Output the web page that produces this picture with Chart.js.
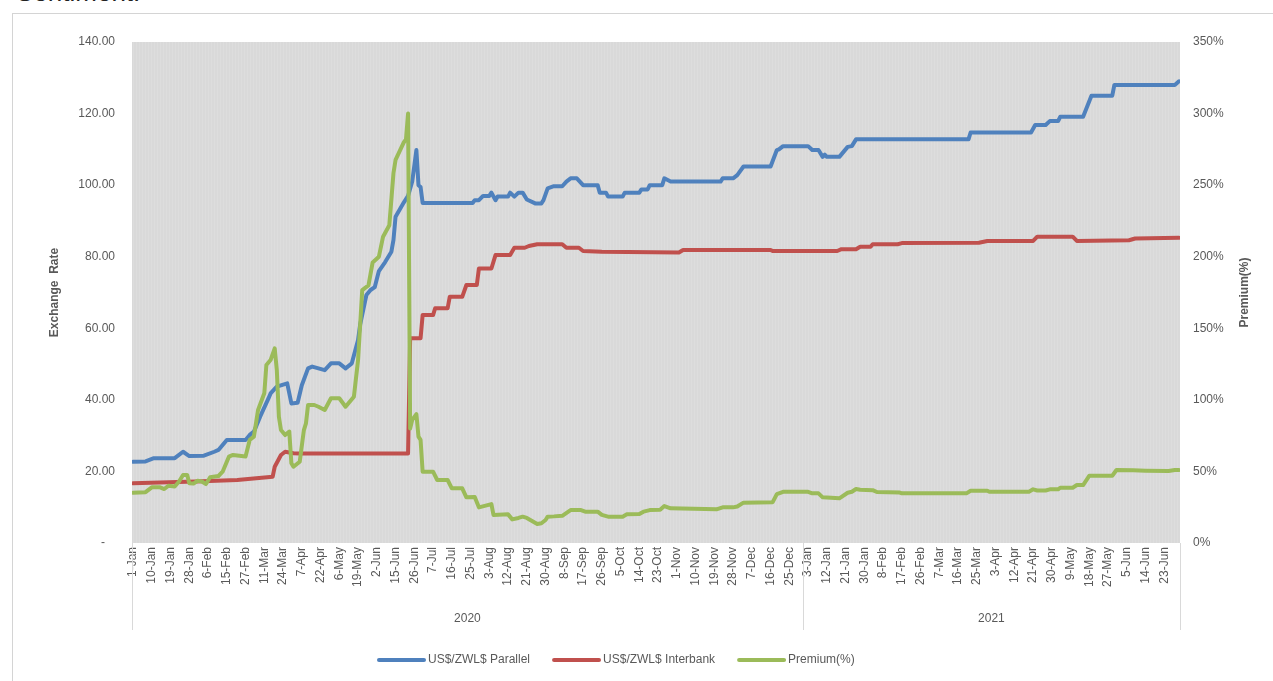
<!DOCTYPE html>
<html>
<head>
<meta charset="utf-8">
<script src="https://cdn.jsdelivr.net/npm/chart.js@4.4.1/dist/chart.umd.min.js"></script>
<style>
  html, body { margin: 0; padding: 0; background: #fff; overflow: hidden; }
  #wrap { position: relative; width: 1273px; height: 681px; overflow: hidden; }
  #heading { position: absolute; left: 16px; top: -23px; font: 26px 'Liberation Sans', Arial, sans-serif; color: #222; }
  #frame { position: absolute; left: 12px; top: 13px; width: 1300px; height: 700px; border-left: 1px solid #d4d4d4; border-top: 1px solid #d4d4d4; }
  canvas { position: absolute; left: 0; top: 0; }
</style>
</head>
<body>
<div id="wrap">
  <div id="heading">Sentiment:</div>
  <div id="frame"></div>
  <canvas id="rateChart" width="1273" height="681"></canvas>
</div>
<script>
// tick labels, one every 9 observations
const ticks2020 = ['1-Jan','10-Jan','19-Jan','28-Jan','6-Feb','15-Feb','27-Feb','11-Mar','24-Mar','7-Apr',
  '22-Apr','6-May','19-May','2-Jun','15-Jun','26-Jun','7-Jul','16-Jul','25-Jul','3-Aug','12-Aug','21-Aug',
  '30-Aug','8-Sep','17-Sep','26-Sep','5-Oct','14-Oct','23-Oct','1-Nov','10-Nov','19-Nov','28-Nov','7-Dec',
  '16-Dec','25-Dec'];
const ticks2021 = ['3-Jan','12-Jan','21-Jan','30-Jan','8-Feb','17-Feb','26-Feb','7-Mar','16-Mar','25-Mar',
  '3-Apr','12-Apr','21-Apr','30-Apr','9-May','18-May','27-May','5-Jun','14-Jun','23-Jun'];
const tickLabels = ticks2020.concat(ticks2021);
const tickStep = 9;
const years = ['2020', '2021'];
const firstIndex2021 = 322;   // observation index of 1-Jan-2021
const lastIndex = 502;        // 30-Jun-2021

const parallel = [[0,22.7],[6,22.8],[10,23.7],[20,23.7],[24,25.5],[27,24.3],[34,24.4],[39,25.5],[41,26.0],
  [45,28.8],[54,28.8],[56,30.2],[58,31.1],[61,35.3],[65,40.4],[66,41.8],[69,43.7],[74,44.6],[76,39.0],
  [79,39.2],[81,44.1],[84,48.8],[86,49.3],[92,48.3],[95,50.2],[99,50.2],[102,48.8],[105,50.2],[108,56.7],
  [109,61.0],[112,69.3],[114,70.7],[116,71.5],[118,76.0],[121,78.5],[124,81.4],[125,84.7],[126,91.2],
  [130,95.2],[132,97.0],[134,101.0],[136,109.8],[137,100.0],[138,99.5],[139,95.0],[163,95.0],[164,95.8],
  [166,95.8],[168,97.0],[171,97.0],[172,97.9],[174,95.8],[175,96.8],[180,96.8],[181,97.9],[183,96.8],
  [185,97.9],[187,97.9],[189,96.0],[193,94.9],[196,94.9],[197,95.8],[199,99.1],[202,99.7],[206,99.7],
  [208,101.0],[210,101.9],[213,101.9],[216,100.0],[223,100.0],[224,97.9],[227,97.9],[228,96.8],[235,96.8],
  [236,97.9],[243,97.9],[244,98.8],[247,98.8],[248,100.0],[254,100.0],[255,101.9],[258,101.0],[282,101.0],
  [283,101.9],[288,101.9],[290,102.8],[293,105.2],[306,105.2],[309,109.8],[310,110.0],[312,110.9],
  [324,110.9],[326,109.8],[329,109.8],[331,107.9],[332,108.5],[333,107.9],[339,107.9],[343,110.7],
  [345,110.9],[347,112.8],[401,112.8],[402,114.7],[431,114.7],[433,116.8],[438,116.8],[440,117.9],
  [444,117.9],[445,119.1],[456,119.1],[460,125.0],[470,125.0],[471,128.0],[500,128.0],[502,129.0]];

const interbank = [[0,16.7],[30,17.2],[50,17.6],[67,18.5],[68,21.3],[71,24.6],[73,25.5],[77,25.1],[80,25.0],
  [132,25.0],[133,57.2],[138,57.2],[139,63.7],[144,63.7],[145,65.6],[151,65.6],[152,68.8],[158,68.8],
  [160,72.1],[165,72.1],[166,76.7],[172,76.7],[174,80.5],[181,80.5],[183,82.5],[188,82.5],[190,83.0],
  [194,83.5],[206,83.5],[208,82.5],[214,82.5],[216,81.6],[225,81.4],[262,81.2],[264,81.9],[306,81.9],
  [307,81.6],[338,81.6],[340,82.1],[347,82.1],[349,82.8],[354,82.8],[355,83.5],[367,83.5],[369,83.8],
  [406,83.9],[410,84.4],[432,84.4],[434,85.6],[451,85.6],[453,84.4],[478,84.6],[481,85.1],[502,85.3]];

// premium in percent
const premium = [[0,35.1],[6,35.5],[9,38.9],[13,38.9],[15,37.7],[17,40.0],[20,39.5],[22,42.8],[24,47.5],
  [26,47.5],[27,41.7],[29,41.5],[31,43.5],[33,43.0],[35,41.2],[37,45.9],[41,46.8],[43,49.8],[46,60.3],
  [48,61.5],[54,60.5],[56,72.0],[58,74.3],[60,92.9],[63,104.6],[64,124.4],[66,127.8],[68,136.0],[69,120.9],
  [70,88.2],[71,78.9],[73,75.4],[75,77.8],[76,55.7],[77,53.3],[80,56.8],[82,78.9],[83,83.6],[84,96.4],
  [87,96.4],[89,95.2],[92,92.9],[95,101.1],[99,101.1],[102,95.2],[106,102.2],[108,127.8],[110,176.7],
  [113,180.0],[115,196.0],[118,200.0],[120,214.0],[123,222.0],[125,258.5],[126,267.6],[130,280.0],
  [131,282.0],[132,300.0],[133,80.0],[134,86.0],[136,90.0],[137,74.3],[138,72.0],[139,49.8],[144,49.8],
  [146,44.0],[151,44.0],[153,38.2],[158,38.2],[160,31.9],[164,32.2],[166,24.9],[172,27.2],[173,19.6],
  [180,20.0],[182,16.5],[185,17.5],[187,18.4],[189,17.5],[194,13.3],[196,13.8],[198,16.1],[199,18.4],
  [202,18.6],[206,19.0],[210,23.0],[215,23.0],[217,21.9],[223,21.9],[225,19.6],[228,18.4],[235,18.4],
  [237,20.0],[243,20.2],[245,21.9],[248,23.0],[253,23.3],[255,25.8],[258,24.2],[280,23.5],[283,24.9],
  [288,24.9],[290,25.5],[293,28.2],[307,28.5],[309,34.2],[312,35.8],[324,35.8],[326,34.7],[329,34.7],
  [331,31.9],[339,31.2],[343,35.1],[345,35.8],[347,37.7],[349,37.2],[355,36.9],[357,35.6],[368,35.2],
  [369,34.7],[400,34.7],[402,36.5],[410,36.5],[411,35.8],[430,35.8],[432,37.5],[434,36.7],[438,36.7],
  [440,37.5],[444,37.5],[445,38.6],[451,38.6],[453,40.5],[456,40.5],[459,47.0],[470,47.0],[472,51.0],
  [480,50.8],[486,50.5],[497,50.3],[500,51.0],[502,51.0]];

const seriesNames = ['US$/ZWL$ Parallel', 'US$/ZWL$ Interbank', 'Premium(%)'];
const seriesColors = ['#4F81BD', '#C0504D', '#9BBB59'];

const FONT = '"Liberation Sans", Arial, sans-serif';
const TEXT = '#595959';
Chart.defaults.font.family = FONT;
Chart.defaults.font.size = 12;
Chart.defaults.color = TEXT;

const toPoints = arr => arr.map(([x, y]) => ({ x, y }));

// grey plot area with faint vertical hatching
const plotBackground = {
    id: 'plotBackground',
    beforeDraw(chart) {
        const { ctx, chartArea: a } = chart;
        ctx.save();
        ctx.fillStyle = '#d9d9d9';
        ctx.fillRect(a.left, a.top, a.right - a.left, a.bottom - a.top);
        ctx.fillStyle = 'rgba(255,255,255,0.12)';
        for (let x = a.left + 1; x < a.right; x += 3) ctx.fillRect(x, a.top, 1, a.bottom - a.top);
        ctx.restore();
    }
};

// year group row, axis titles and legend
const extras = {
    id: 'extras',
    afterDraw(chart) {
        const { ctx, chartArea: a, scales } = chart;
        const x = scales.x;
        const breakX = x.getPixelForValue(firstIndex2021 - 0.5);
        ctx.save();
        ctx.strokeStyle = '#d9d9d9';
        ctx.lineWidth = 1;
        [a.left, breakX, a.right].forEach(px => {
            ctx.beginPath();
            ctx.moveTo(Math.round(px) + 0.5, a.bottom);
            ctx.lineTo(Math.round(px) + 0.5, 630);
            ctx.stroke();
        });
        ctx.fillStyle = TEXT;
        ctx.font = '12px ' + FONT;
        ctx.textAlign = 'center';
        ctx.textBaseline = 'middle';
        ctx.fillText(years[0], (a.left + breakX) / 2, 619);
        ctx.fillText(years[1], (breakX + a.right) / 2, 619);

        // axis titles, both read bottom to top
        ctx.font = 'bold 12px ' + FONT;
        const midY = (a.top + a.bottom) / 2;
        [[55, 'Exchange  Rate'], [1245, 'Premium(%)']].forEach(([tx, t]) => {
            ctx.save();
            ctx.translate(tx, midY);
            ctx.rotate(-Math.PI / 2);
            ctx.fillText(t, 0, 0);
            ctx.restore();
        });

        // legend
        ctx.font = '12px ' + FONT;
        ctx.textAlign = 'left';
        ctx.lineCap = 'round';
        ctx.lineWidth = 4;
        let lx = 379;
        seriesNames.forEach((name, i) => {
            ctx.strokeStyle = seriesColors[i];
            ctx.beginPath();
            ctx.moveTo(lx, 660);
            ctx.lineTo(lx + 45, 660);
            ctx.stroke();
            ctx.fillText(name, lx + 49, 660);
            lx += 49 + ctx.measureText(name).width + 24;
        });
        ctx.restore();
    }
};

new Chart(document.getElementById('rateChart'), {
    type: 'line',
    data: {
        datasets: [
            { label: seriesNames[0], data: toPoints(parallel), yAxisID: 'y', borderColor: seriesColors[0], order: 3 },
            { label: seriesNames[1], data: toPoints(interbank), yAxisID: 'y', borderColor: seriesColors[1], order: 2 },
            { label: seriesNames[2], data: toPoints(premium), yAxisID: 'y1', borderColor: seriesColors[2], order: 1 }
        ]
    },
    options: {
        responsive: false,
        animation: false,
        layout: { padding: { top: 42, left: 0, right: 17, bottom: 0 } },
        elements: {
            line: { borderWidth: 4, tension: 0, borderJoinStyle: 'round', borderCapStyle: 'round', fill: false },
            point: { radius: 0, hoverRadius: 0 }
        },
        plugins: { legend: { display: false }, tooltip: { enabled: false } },
        scales: {
            x: {
                type: 'linear',
                min: -0.5,
                max: lastIndex + 0.5,
                grid: { display: false, drawTicks: false },
                border: { display: false },
                afterBuildTicks: s => { s.ticks = tickLabels.map((_, k) => ({ value: k * tickStep })); },
                afterFit: s => { s.height = 138; },
                ticks: {
                    autoSkip: false,
                    minRotation: 90,
                    maxRotation: 90,
                    padding: 4,
                    callback: (v, i) => tickLabels[i]
                }
            },
            y: {
                position: 'left',
                min: 0,
                max: 140,
                grid: { display: false, drawTicks: false },
                border: { display: false },
                afterFit: s => { s.width = 132; },
                ticks: {
                    stepSize: 20,
                    padding: 17,
                    callback: v => v === 0 ? '-   ' : v.toFixed(2)
                }
            },
            y1: {
                position: 'right',
                min: 0,
                max: 350,
                grid: { display: false, drawTicks: false },
                border: { display: false },
                afterFit: s => { s.width = 76; },
                ticks: {
                    stepSize: 50,
                    padding: 13,
                    callback: v => v + '%'
                }
            }
        }
    },
    plugins: [plotBackground, extras]
});
</script>
</body>
</html>
